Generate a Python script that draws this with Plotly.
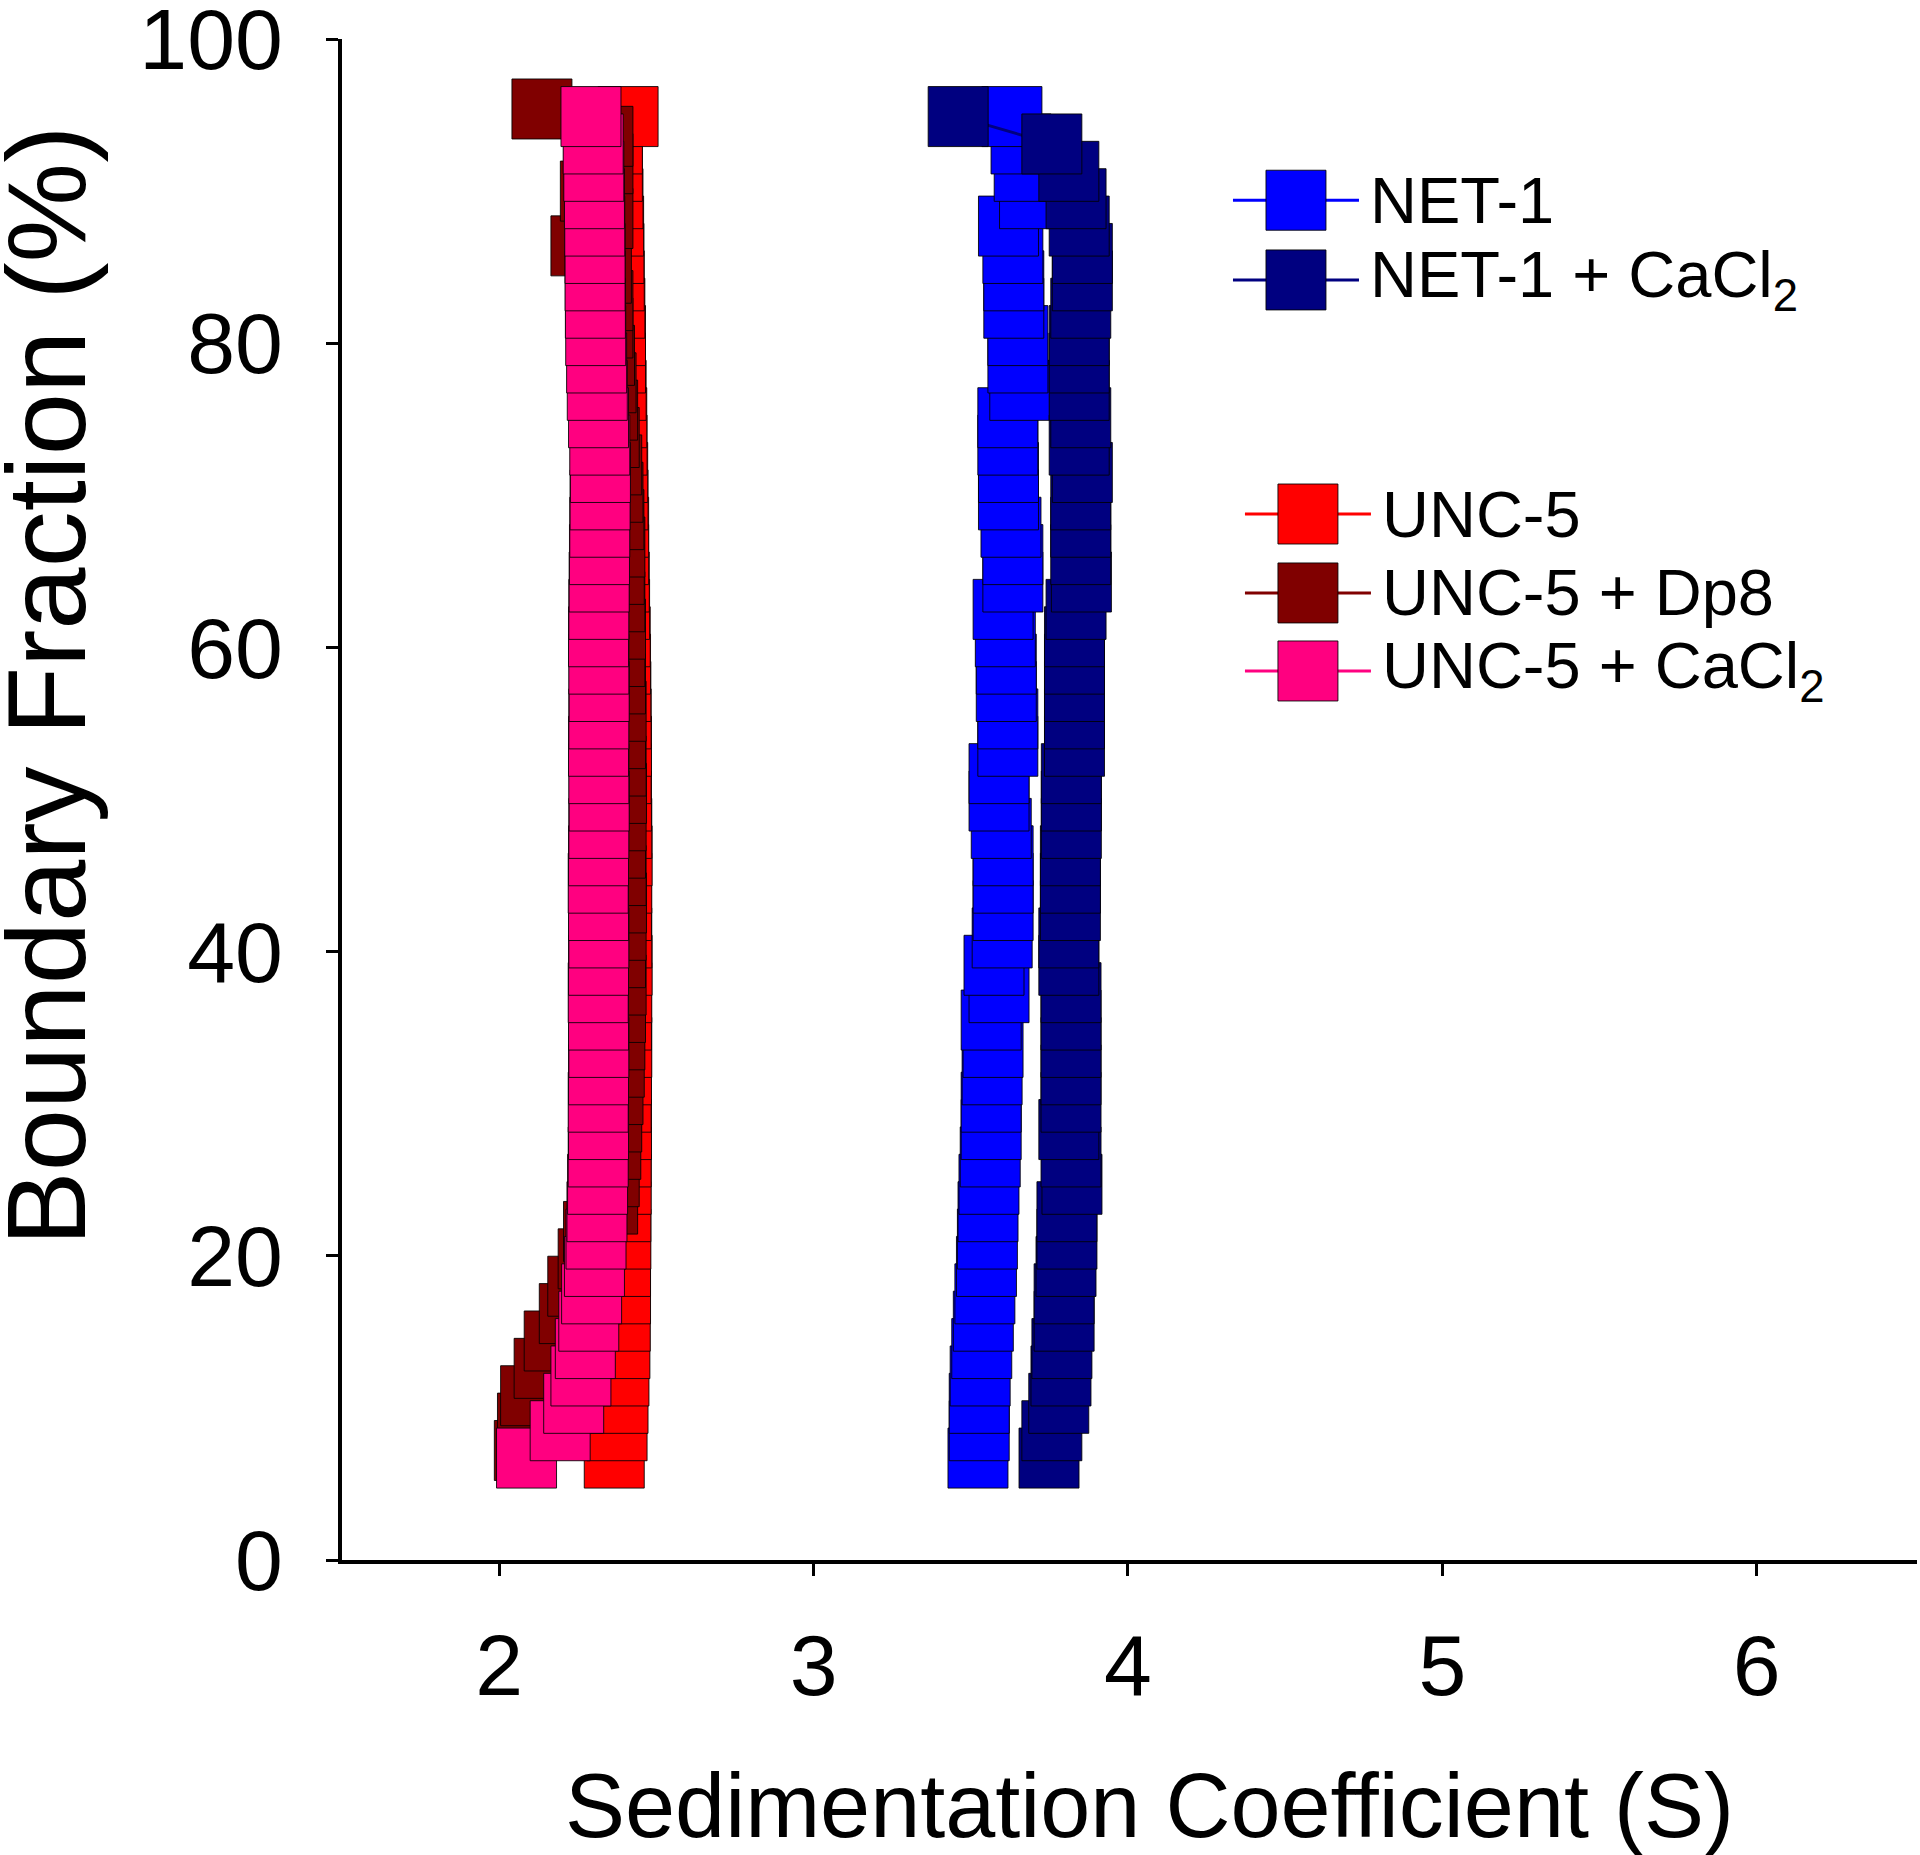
import plotly.graph_objects as go

# boundary fractions (%)
y_frac = [6.7, 8.5, 10.3, 12.1, 13.9, 15.7, 17.5, 19.3, 21.1, 22.9,
          24.7, 26.5, 28.3, 30.1, 31.9, 33.7, 35.5, 37.3, 39.1, 40.9,
          42.7, 44.5, 46.3, 48.1, 49.9, 51.7, 53.5, 55.3, 57.1, 58.9,
          60.7, 62.5, 64.3, 66.1, 67.9, 69.7, 71.5, 73.3, 75.1, 76.9,
          78.7, 80.5, 82.3, 84.1, 85.9, 87.7, 89.5, 91.3, 93.1, 94.9]

y_frac_dp8 = [7.2, 9.0, 10.8, 12.6, 14.4, 16.2, 18.0, 19.8, 21.6, 23.4,
              25.2, 27.0, 28.8, 30.6, 32.4, 34.2, 36.0, 37.8, 39.6, 41.4,
              43.2, 45.0, 46.8, 48.6, 50.4, 52.2, 54.0, 55.8, 57.6, 59.4,
              61.2, 63.0, 64.8, 66.6, 68.4, 70.2, 72.0, 73.8, 75.6, 77.4,
              79.2, 81.0, 82.8, 84.6, 86.4, 88.2, 90.0, 91.8, 93.6, 95.4]

# sedimentation coefficients (S)
net1 = [3.523, 3.527, 3.527, 3.530, 3.535, 3.540, 3.545, 3.550, 3.553, 3.555,
        3.558, 3.562, 3.565, 3.565, 3.568, 3.571, 3.565, 3.590, 3.574, 3.600,
        3.603, 3.603, 3.603, 3.597, 3.590, 3.590, 3.618, 3.618, 3.613, 3.613,
        3.610, 3.603, 3.634, 3.634, 3.628, 3.620, 3.620, 3.618, 3.618, 3.656,
        3.650, 3.650, 3.637, 3.637, 3.634, 3.620, 3.687, 3.670, 3.660, 3.631]

net1_ca = [3.749, 3.758, 3.780, 3.787, 3.790, 3.797, 3.797, 3.803, 3.806, 3.806,
           3.822, 3.819, 3.812, 3.819, 3.819, 3.819, 3.819, 3.819, 3.812, 3.812,
           3.817, 3.817, 3.817, 3.820, 3.820, 3.820, 3.830, 3.830, 3.830, 3.830,
           3.830, 3.835, 3.852, 3.850, 3.850, 3.850, 3.855, 3.845, 3.850, 3.845,
           3.845, 3.845, 3.850, 3.855, 3.855, 3.845, 3.835, 3.812, 3.758, 3.460]

unc5 = [2.366, 2.375, 2.378, 2.381, 2.384, 2.385, 2.386, 2.386, 2.387, 2.387,
        2.388, 2.388, 2.389, 2.388, 2.389, 2.390, 2.389, 2.390, 2.391, 2.390,
        2.389, 2.390, 2.391, 2.390, 2.389, 2.388, 2.389, 2.388, 2.387, 2.386,
        2.385, 2.383, 2.382, 2.380, 2.380, 2.378, 2.377, 2.375, 2.374, 2.372,
        2.370, 2.370, 2.368, 2.366, 2.365, 2.364, 2.362, 2.360, 2.360, 2.410]

unc5_dp8 = [2.080, 2.090, 2.100, 2.143, 2.175, 2.223, 2.250, 2.283, 2.300, 2.345,
            2.350, 2.355, 2.358, 2.362, 2.366, 2.368, 2.370, 2.372, 2.370, 2.372,
            2.373, 2.372, 2.370, 2.372, 2.373, 2.372, 2.370, 2.372, 2.370, 2.368,
            2.370, 2.368, 2.366, 2.368, 2.365, 2.362, 2.358, 2.350, 2.345, 2.340,
            2.335, 2.330, 2.330, 2.325, 2.260, 2.330, 2.290, 2.330, 2.330, 2.136]

unc5_ca = [2.087, 2.194, 2.237, 2.260, 2.274, 2.285, 2.294, 2.303, 2.308, 2.311,
           2.313, 2.315, 2.316, 2.315, 2.316, 2.317, 2.316, 2.315, 2.316, 2.317,
           2.316, 2.315, 2.316, 2.317, 2.318, 2.317, 2.316, 2.317, 2.318, 2.317,
           2.316, 2.317, 2.318, 2.319, 2.320, 2.321, 2.322, 2.320, 2.316, 2.312,
           2.310, 2.307, 2.306, 2.305, 2.305, 2.304, 2.303, 2.301, 2.299, 2.292]

x_ticks = [2, 3, 4, 5, 6]
y_ticks = [0, 20, 40, 60, 80, 100]

series = [
    ("NET-1", net1, y_frac, "#0000FF"),
    ("NET-1 + CaCl<sub>2</sub>", net1_ca, y_frac, "#000080"),
    ("UNC-5", unc5, y_frac, "#FF0000"),
    ("UNC-5 + Dp8", unc5_dp8, y_frac_dp8, "#800000"),
    ("UNC-5 + CaCl<sub>2</sub>", unc5_ca, y_frac, "#FF0080"),
]

FONT = "Arial, 'Liberation Sans', sans-serif"
MS = 60

fig = go.Figure()

for name, xs, ys, col in series:
    fig.add_trace(go.Scatter(
        x=xs, y=ys, mode="lines+markers", name=name,
        line=dict(color=col, width=3),
        marker=dict(symbol="square", size=MS, color=col, opacity=1,
                    line=dict(color="rgba(0,0,0,0.85)", width=1)),
        showlegend=False,
    ))

# hand-made legend in a normalised overlay panel (big square symbols)
legend_rows = [
    # series index, marker x, y
    (0, 0.6057, 0.894),
    (1, 0.6057, 0.8416),
    (2, 0.6133, 0.6877),
    (3, 0.6133, 0.6358),
    (4, 0.6133, 0.5845),
]
half = 0.040
for idx, lx, ly in legend_rows:
    name, _, _, col = series[idx]
    fig.add_trace(go.Scatter(
        x=[lx - half, lx, lx + half], y=[ly, ly, ly],
        xaxis="x2", yaxis="y2", mode="lines+markers",
        line=dict(color=col, width=3),
        marker=dict(symbol="square", size=[0, MS, 0], color=col, opacity=1,
                    line=dict(color="rgba(0,0,0,0.85)", width=[0, 1, 0])),
        showlegend=False, hoverinfo="skip",
    ))
    fig.add_annotation(
        x=lx + half + 0.006, y=ly, xref="x2", yref="y2",
        text=name, showarrow=False, xanchor="left", yanchor="middle",
        font=dict(family=FONT, size=65, color="black"),
    )

fig.add_annotation(
    x=0.5124, y=-0.1617, xref="paper", yref="paper",
    text="Sedimentation Coefficient (S)", showarrow=False,
    xanchor="center", yanchor="middle",
    font=dict(family=FONT, size=90, color="black"),
)
fig.add_annotation(
    x=-0.1880, y=0.5746, xref="paper", yref="paper",
    text="Boundary Fraction (%)", showarrow=False, textangle=-90,
    xanchor="center", yanchor="middle",
    font=dict(family=FONT, size=112, color="black"),
)

fig.update_layout(
    width=1920, height=1855,
    margin=dict(l=342, r=3, t=39, b=295, autoexpand=False),
    paper_bgcolor="white", plot_bgcolor="white",
    font=dict(family=FONT, color="black"),
    xaxis=dict(
        range=[1.5, 6.51], tickvals=x_ticks, ticks="outside", ticklen=12,
        tickwidth=3, tickcolor="black", showline=True, linewidth=4,
        linecolor="black", showgrid=False, zeroline=False,
        tickfont=dict(family=FONT, size=86), ticklabelstandoff=16,
        ticklabeloverflow="allow", automargin=False,
    ),
    yaxis=dict(
        range=[0, 100], tickvals=y_ticks, ticks="outside", ticklen=12,
        tickwidth=3, tickcolor="black", showline=True, linewidth=4,
        linecolor="black", showgrid=False, zeroline=False,
        tickfont=dict(family=FONT, size=86), ticklabelstandoff=26,
        ticklabeloverflow="allow", automargin=False,
    ),
    xaxis2=dict(overlaying="x", anchor="y2", range=[0, 1], visible=False,
                fixedrange=True, automargin=False),
    yaxis2=dict(overlaying="y", anchor="x2", range=[0, 1], visible=False,
                fixedrange=True, automargin=False),
)

fig.write_html("out.html", config={"displayModeBar": False},
               post_script="document.body.style.margin='0';")
